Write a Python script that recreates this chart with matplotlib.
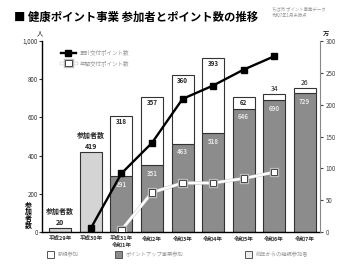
import matplotlib
matplotlib.use("Agg")
import matplotlib.pyplot as plt
import matplotlib.patheffects as pe
from matplotlib.patches import Rectangle
import numpy as np

plt.rcParams['font.family'] = ['Noto Sans CJK JP', 'DejaVu Sans']

categories = ["平成29年", "平成30年", "平成31年\n令和1年", "令和2年", "令和3年",
              "令和4年", "令和5年", "令和6年", "令和7年"]
total_only = [20, 419, None, None, None, None, None, None, None]
continuing = [0, 0, 291, 351, 463, 518, 646, 690, 729]
new_part = [0, 0, 318, 357, 360, 393, 62, 34, 26]
cum_points = [None, 6, 92, 140, 209, 230, 255, 276, None]
year_points = [None, None, 3, 62, 77, 77, 84, 94, None]

fig = plt.figure(figsize=(3.43, 2.67), dpi=100)
ax = fig.add_axes([42/343, 1-232/267, (320-42)/343, (232-41)/267])
ax2 = ax.twinx()

x = np.arange(len(categories))
w = 0.72
light = "#d4d4d4"
dark = "#8c8c8c"

for i in range(len(categories)):
    if total_only[i] is not None:
        ax.bar(x[i], total_only[i], w, color=light, edgecolor="#333333", linewidth=0.8, zorder=2)
        ax.text(x[i], total_only[i] + 12, f"参加者数\n{total_only[i]}", ha="center", va="bottom",
                fontsize=5, fontweight="bold", linespacing=1.6, color="#222222", zorder=5)
    else:
        ax.bar(x[i], continuing[i], w, color=dark, edgecolor="#333333", linewidth=0.8, zorder=2)
        ax.bar(x[i], new_part[i], w, bottom=continuing[i], color="white", edgecolor="#333333",
               linewidth=0.8, zorder=2)
        ax.text(x[i], continuing[i] - 25, f"{continuing[i]}", ha="center", va="top",
                fontsize=4.5, color="#e6e6e6", fontweight="bold", zorder=5)
        top = continuing[i] + new_part[i]
        if new_part[i] > 50:
            ax.text(x[i], top - 10, f"{new_part[i]}", ha="center", va="top",
                    fontsize=4.5, fontweight="bold", color="#222222", zorder=5)
        else:
            ax.text(x[i], top + 3, f"{new_part[i]}", ha="center", va="bottom",
                    fontsize=5, color="#222222", zorder=5)

ax.set_ylim(0, 1000)
ax.set_xlim(-0.6, 8.5)
ax.set_yticks([0, 200, 400, 600, 800, 1000])
ax.set_yticklabels(["0", "200", "400", "600", "800", "1,000"])
ax.set_xticks(x)
ax.set_xticklabels(categories, fontweight="bold")
ax.tick_params(axis="x", length=0, labelsize=4, pad=3, colors="#333333")
ax.tick_params(axis="y", length=2, labelsize=4.5, pad=1, colors="#333333")
ax.spines["top"].set_visible(False)
ax.spines["left"].set_linewidth(1.0)
ax.spines["bottom"].set_linewidth(1.0)
ax.spines["right"].set_visible(False)

cx = [x[i] for i in range(len(x)) if cum_points[i] is not None]
cy = [v for v in cum_points if v is not None]
yx = [x[i] for i in range(len(x)) if year_points[i] is not None]
yy = [v for v in year_points if v is not None]

ax2.plot(cx, cy, color="black", lw=1.7, marker="s", ms=4, mfc="black", mec="black", zorder=6,
         label="累計交付ポイント数")
ax2.plot(yx, yy, color="white", lw=1.8, marker="s", ms=4.5, mfc="white", mec="#444444", mew=0.7,
         zorder=6, label="年間交付ポイント数",
         path_effects=[pe.Stroke(linewidth=2.4, foreground="#bbbbbb"), pe.Normal()])
ax2.set_ylim(0, 300)
ax2.set_yticks([0, 50, 100, 150, 200, 250, 300])
ax2.tick_params(axis="y", length=2, labelsize=4.5, pad=2, colors="#444444")
ax2.spines["top"].set_visible(False)
ax2.spines["left"].set_visible(False)
ax2.spines["bottom"].set_visible(False)
ax2.spines["right"].set_color("#888888")
ax2.spines["right"].set_linewidth(0.8)
ax.set_zorder(1)
ax2.set_zorder(2)
ax2.patch.set_visible(False)

leg = ax2.legend(loc="upper left", bbox_to_anchor=(0.055, 0.975), fontsize=4, frameon=False,
                 handlelength=2.6, labelspacing=0.9, borderaxespad=0.3)
for t in leg.get_texts():
    t.set_color("#999999")

fig.text(14/343, 1-17/267, "■ 健康ポイント事業 参加者とポイント数の推移", fontsize=8.2,
         fontweight="bold", va="center", ha="left")
fig.text(272/343, 1-12/267, "ちば市 ポイント事業データ\n令和7年1月末時点", fontsize=3.2,
         color="#999999", va="center", ha="left", linespacing=1.4)
fig.text(40/343, 1-34/267, "人", fontsize=4.5, ha="center", va="center")
fig.text(326/343, 1-34/267, "万", fontsize=4.5, ha="center", va="center")
fig.text(28/343, 1-215/267, "参\n加\n者\n数", fontsize=5, fontweight="bold", ha="center",
         va="center", linespacing=1.0)

leg_items = [(47, "white", "新規参加"), (115, dark, "ポイントアップ事業参加"),
             (245, "#eeeeee", "前年からの継続参加者")]
for px, col, lab in leg_items:
    fig.patches.append(Rectangle((px/343, 1-258/267), 7/343, 7/267, transform=fig.transFigure,
                                 facecolor=col, edgecolor="#555555", linewidth=0.7))
    fig.text((px+11)/343, 1-254.5/267, lab, fontsize=3.8, color="#999999", va="center", ha="left")

fig.savefig("out.png", dpi=100)
